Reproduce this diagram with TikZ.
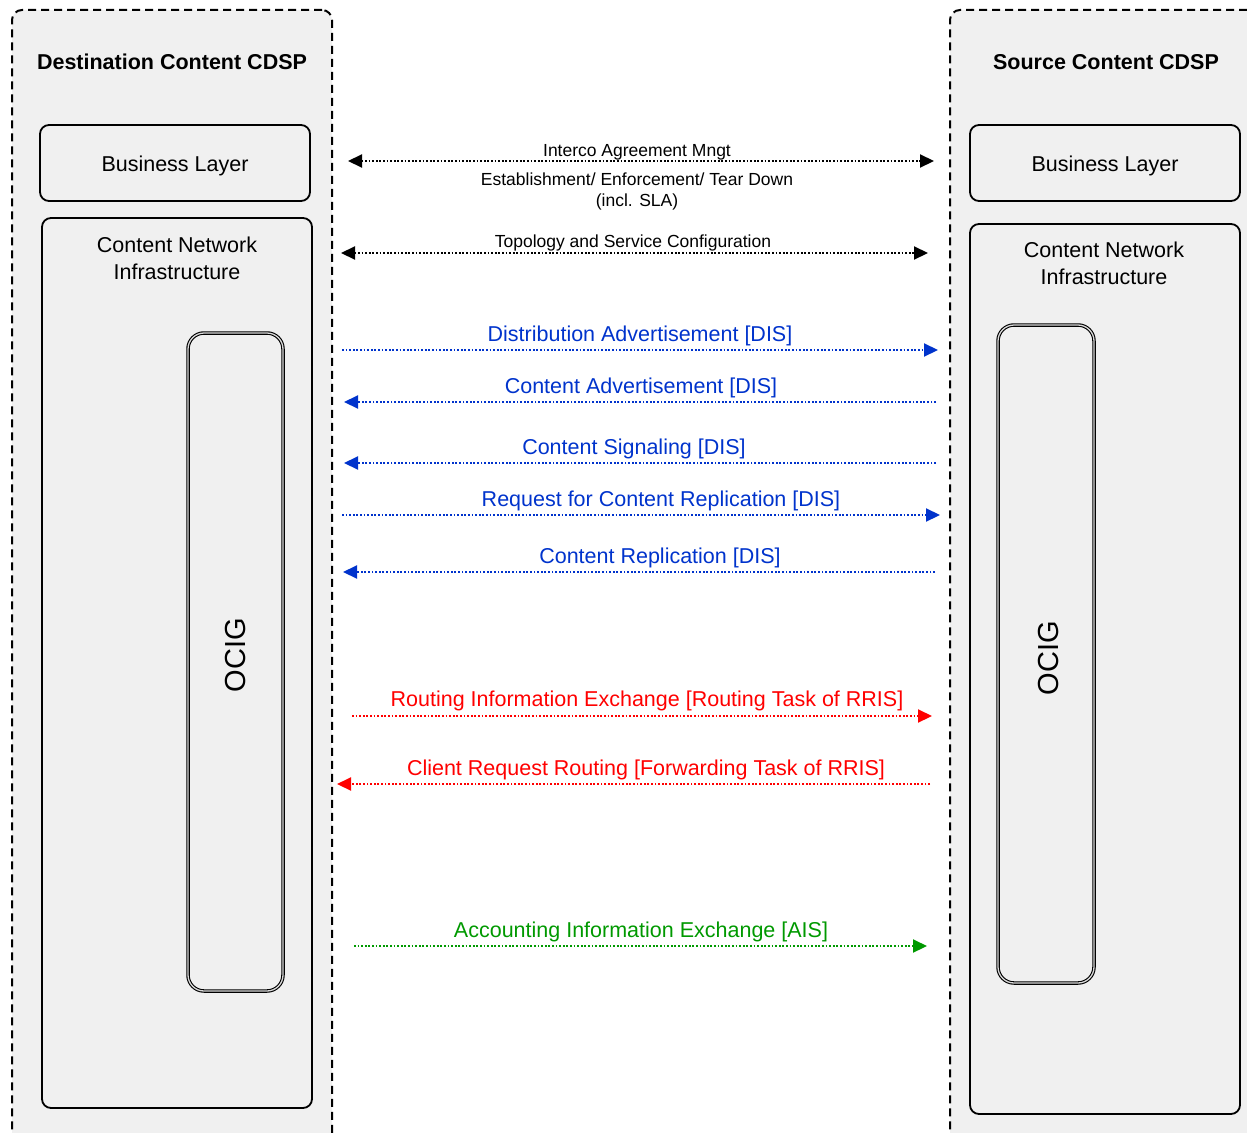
\documentclass[tikz,border=0pt]{standalone}
\usepackage{fontspec}
\setmainfont{Liberation Sans}
\usetikzlibrary{arrows.meta,positioning}
\definecolor{disblue}{RGB}{0,51,204}
\definecolor{rrisred}{RGB}{255,0,0}
\definecolor{aisgreen}{RGB}{0,153,0}
\definecolor{cdspfill}{RGB}{240,240,240}
\tikzset{
  cdsp/.style={draw, dash pattern=on 8pt off 5pt, line width=2pt, rounded corners=10pt,
    fill=cdspfill, minimum width=320pt, minimum height=1150pt, inner sep=0pt},
  layer/.style={draw, line width=1.8pt, rounded corners=9pt, inner sep=0pt},
  ocigbox/.style={draw=black, line width=1.1pt, double=gray!30, double distance=1.3pt,
    rounded corners=16pt, inner sep=0pt},
  big/.style={font=\fontsize{21.5}{27}\selectfont, inner sep=0pt, align=center},
  small/.style={font=\fontsize{17.5}{21}\selectfont, inner sep=0pt, align=center},
  tip/.tip={Triangle[length=14pt,width=13pt]},
  msg/.style={line width=2.1pt, dash pattern=on 1.8pt off 1.8pt, -tip},
  both/.style={msg, tip-tip}
}
\begin{document}
\begin{tikzpicture}[x=1pt,y=-1pt]
  \useasboundingbox (0,0) rectangle (1247,1132);
  \clip (0,0) rectangle (1247,1132);
  % the two CDSPs
  \node[cdsp] (dest) at (172,585) {};
  \node[cdsp] (src) at (1110,585) {};
  \node[big,font=\fontsize{21.5}{24}\bfseries] (dest_title) at (172,62) {Destination Content CDSP};
  \node[big,font=\fontsize{21.5}{24}\bfseries] (src_title) at (1106,62) {Source Content CDSP};
  % layers, destination side
  \node[layer,minimum width=270pt,minimum height=76pt] (dest_biz) at (175,163) {};
  \node[big] (dest_biz_txt) at (175,166) {Business Layer};
  \node[layer,minimum width=270pt,minimum height=890pt] (dest_cni) at (177,663) {};
  \node[big] (dest_cni_txt) at (177,258) {Content Network\\Infrastructure};
  \node[ocigbox,minimum width=95pt,minimum height=658pt] (dest_ocig) at (235.5,662) {};
  \node[big,font=\fontsize{29}{32}\selectfont,rotate=90] (dest_ocig_txt) at (236,655) {OCIG};
  % layers, source side
  \node[layer,minimum width=270pt,minimum height=76pt] (src_biz) at (1105,163) {};
  \node[big] (src_biz_txt) at (1105,166) {Business Layer};
  \node[layer,minimum width=270pt,minimum height=890pt] (src_cni) at (1105,669) {};
  \node[big] (src_cni_txt) at (1104,263) {Content Network\\Infrastructure};
  \node[ocigbox,minimum width=96pt,minimum height=658pt] (src_ocig) at (1046,654) {};
  \node[big,font=\fontsize{29}{32}\selectfont,rotate=90] (src_ocig_txt) at (1049,658) {OCIG};
  % message ends
  \coordinate (ia_w) at (348,161);  \coordinate (ia_e) at (934,161);
  \coordinate (tc_w) at (341,253);  \coordinate (tc_e) at (928,253);
  \coordinate (da_w) at (342,350);  \coordinate (da_e) at (938,350);
  \coordinate (ca_w) at (344,402);  \coordinate (ca_e) at (936,402);
  \coordinate (cs_w) at (344,463);  \coordinate (cs_e) at (936,463);
  \coordinate (rq_w) at (342,515);  \coordinate (rq_e) at (940,515);
  \coordinate (cr_w) at (343,572);  \coordinate (cr_e) at (935,572);
  \coordinate (ri_w) at (352,716);  \coordinate (ri_e) at (932,716);
  \coordinate (cq_w) at (337,784);  \coordinate (cq_e) at (930,784);
  \coordinate (ac_w) at (354,946);  \coordinate (ac_e) at (927,946);
  % management
  \draw[both] (ia_w) -- (ia_e);
  \node[small] (ia_lbl) at (637,152) {Interco Agreement Mngt};
  \node[small] (ia_sub) at (637,191) {Establishment/ Enforcement/ Tear Down\\(incl. SLA)};
  \draw[both] (tc_w) -- (tc_e);
  \node[small] (tc_lbl) at (633,243) {Topology and Service Configuration};
  % DIS
  \draw[msg,disblue] (da_w) -- (da_e);
  \node[big,disblue] (da_lbl) at (640,336) {Distribution Advertisement [DIS]};
  \draw[msg,disblue] (ca_e) -- (ca_w);
  \node[big,disblue] (ca_lbl) at (641,388) {Content Advertisement [DIS]};
  \draw[msg,disblue] (cs_e) -- (cs_w);
  \node[big,disblue] (cs_lbl) at (634,449) {Content Signaling [DIS]};
  \draw[msg,disblue] (rq_w) -- (rq_e);
  \node[big,disblue] (rq_lbl) at (661,501) {Request for Content Replication [DIS]};
  \draw[msg,disblue] (cr_e) -- (cr_w);
  \node[big,disblue] (cr_lbl) at (660,558) {Content Replication [DIS]};
  % RRIS
  \draw[msg,rrisred] (ri_w) -- (ri_e);
  \node[big,rrisred] (ri_lbl) at (647,701) {Routing Information Exchange [Routing Task of RRIS]};
  \draw[msg,rrisred] (cq_e) -- (cq_w);
  \node[big,rrisred] (cq_lbl) at (646,770) {Client Request Routing [Forwarding Task of RRIS]};
  % AIS
  \draw[msg,aisgreen] (ac_w) -- (ac_e);
  \node[big,aisgreen] (ac_lbl) at (641,932) {Accounting Information Exchange [AIS]};
\end{tikzpicture}
\end{document}
